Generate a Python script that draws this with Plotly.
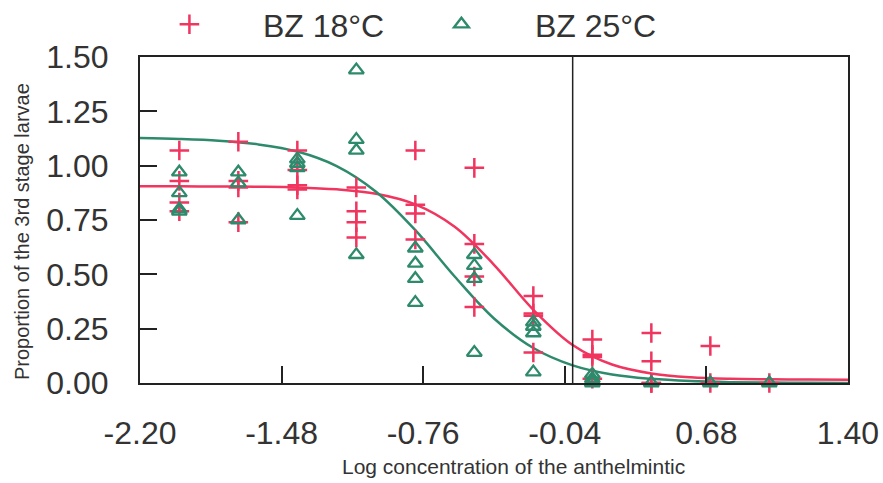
import plotly.graph_objects as go

# ---- data ----
red_x = [-2.0]*4 + [-1.7]*4 + [-1.4]*4 + [-1.1]*4 + [-0.8]*4 + [-0.5]*4 + [-0.2]*4 + [0.1]*4 + [0.4]*4 + [0.7]*2 + [1.0]
red_y = [1.07, 0.93, 0.83, 0.79,
         1.11, 0.93, 0.90, 0.74,
         1.07, 0.98, 0.91, 0.89,
         0.90, 0.79, 0.74, 0.67,
         1.07, 0.82, 0.78, 0.66,
         0.99, 0.64, 0.49, 0.35,
         0.40, 0.32, 0.31, 0.14,
         0.20, 0.13, 0.12, 0.02,
         0.23, 0.10, 0.00, 0.00,
         0.17, 0.00,
         0.00]

green_x = [-2.0]*4 + [-1.7]*3 + [-1.4]*4 + [-1.1]*4 + [-0.8]*4 + [-0.5]*4 + [-0.2]*4 + [0.1]*4 + [0.4, 0.7, 1.0]
green_y = [0.97, 0.875, 0.80, 0.79,
           0.97, 0.92, 0.75,
           1.03, 1.01, 0.99, 0.77,
           1.44, 1.12, 1.07, 0.59,
           0.62, 0.55, 0.48, 0.37,
           0.59, 0.54, 0.48, 0.14,
           0.28, 0.26, 0.23, 0.05,
           0.04, 0.02, 0.01, 0.00,
           0.00, 0.00, 0.00]

# fitted curves
curve_x = [-2.2, -2.0, -1.8, -1.6, -1.4, -1.2, -1.0, -0.8, -0.6, -0.4, -0.2,
           0.0, 0.2, 0.4, 0.6, 0.8, 1.0, 1.2, 1.4]
red_curve = [0.905, 0.905, 0.904, 0.903, 0.900, 0.891, 0.871, 0.822, 0.719, 0.544, 0.337,
             0.175, 0.085, 0.044, 0.026, 0.019, 0.017, 0.016, 0.015]
green_curve = [1.127, 1.123, 1.115, 1.098, 1.065, 0.998, 0.880, 0.703, 0.490, 0.297, 0.161,
               0.081, 0.039, 0.019, 0.009, 0.004, 0.002, 0.001, 0.000]

x_ticks = [-2.20, -1.48, -0.76, -0.04, 0.68, 1.40]
x_tick_labels = ["-2.20", "-1.48", "-0.76", "-0.04", "0.68", "1.40"]
y_ticks = [0.0, 0.25, 0.5, 0.75, 1.0, 1.25, 1.5]
y_tick_labels = ["0.00", "0.25", "0.50", "0.75", "1.00", "1.25", "1.50"]
ref_line_x = 0.0

series_names = ["BZ 18°C", "BZ 25°C"]

RED = "#f0355f"
GREEN = "#2e8a6c"
TXT = "#333333"
FONT = "Liberation Sans, Arial, sans-serif"

fig = go.Figure()
fig.add_trace(go.Scatter(x=curve_x, y=red_curve, mode="lines", line=dict(color=RED, width=2.5, shape="spline"),
                         showlegend=False, hoverinfo="skip"))
fig.add_trace(go.Scatter(x=curve_x, y=green_curve, mode="lines", line=dict(color=GREEN, width=2.5, shape="spline"),
                         showlegend=False, hoverinfo="skip"))
fig.add_trace(go.Scatter(x=red_x, y=red_y, mode="markers", name=series_names[0], cliponaxis=False,
                         marker=dict(symbol="cross-thin", size=14, color=RED, line=dict(width=2.5, color=RED))))
fig.add_trace(go.Scatter(x=green_x, y=green_y, mode="markers", name=series_names[1], cliponaxis=False,
                         marker=dict(symbol="triangle-up-open", size=13, color=GREEN, line=dict(width=2.3, color=GREEN))))

fig.add_shape(type="line", xref="x", yref="paper", x0=ref_line_x, x1=ref_line_x, y0=0, y1=1,
              line=dict(color="#222222", width=1.5))

fig.update_xaxes(range=[-2.2, 1.4], tickvals=x_ticks, ticktext=x_tick_labels, ticks="inside", ticklen=17,
                 tickwidth=2, tickcolor="#222222", showline=True, linewidth=2, linecolor="#222222", mirror=True,
                 showgrid=False, zeroline=False, tickfont=dict(size=32, color=TXT, family=FONT),
                 ticklabelstandoff=21)
fig.update_yaxes(range=[0, 1.5], tickvals=y_ticks, ticktext=y_tick_labels, ticks="inside", ticklen=17,
                 tickwidth=2, tickcolor="#222222", showline=True, linewidth=2, linecolor="#222222", mirror=True,
                 showgrid=False, zeroline=False, tickfont=dict(size=32, color=TXT, family=FONT),
                 ticklabelstandoff=23)

fig.add_annotation(text="Log concentration of the anthelmintic", xref="paper", yref="paper",
                   x=0.528, y=-0.255, showarrow=False, font=dict(size=21, color=TXT, family=FONT),
                   xanchor="center", yanchor="middle")
fig.add_annotation(text="Proportion of the 3rd stage larvae", xref="paper", yref="paper",
                   x=-0.1667, y=0.466, showarrow=False, textangle=-90, font=dict(size=20, color=TXT, family=FONT),
                   xanchor="center", yanchor="middle")

fig.update_layout(
    width=883, height=483,
    margin=dict(l=140, r=35, t=57, b=100, autoexpand=False),
    paper_bgcolor="white", plot_bgcolor="white",
    legend=dict(orientation="h", x=-0.034, y=1.10, xanchor="left", yanchor="middle",
                font=dict(size=32, color=TXT, family=FONT), itemwidth=137, entrywidth=120,
                bgcolor="rgba(0,0,0,0)"),
)

fig.write_html("out.html")
